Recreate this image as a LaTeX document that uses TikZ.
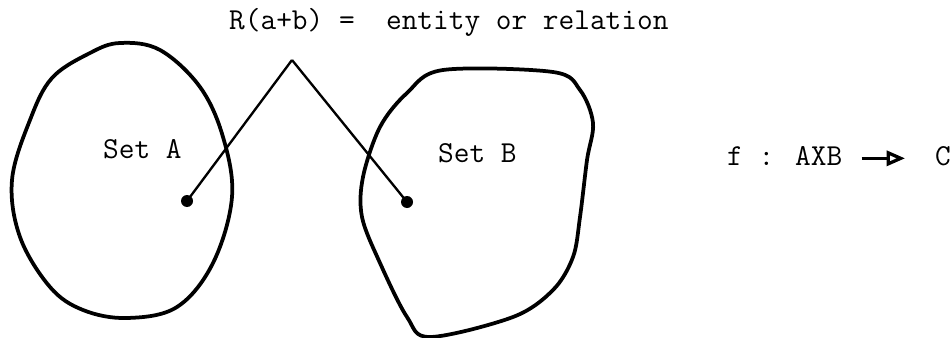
\documentclass[tikz,border=0pt]{standalone}
\usepackage{fontspec}
\usetikzlibrary{arrows.meta, positioning}
\tikzset{
  blob/.style={line width=3.2pt, line join=round},
  leg/.style={line width=2pt},
  dotnode/.style={circle, fill=black, inner sep=0pt, minimum size=0.36cm},
  label/.style={inner sep=0pt, anchor=base west, font=\ttfamily\fontsize{26}{30}\selectfont},
  funcarrow/.style={line width=2.8pt, -{Triangle[open, length=0.55cm, width=0.45cm]}}
}
\begin{document}
\begin{tikzpicture}[x=0.03cm, y=-0.03cm]
  \useasboundingbox (0,0) rectangle (951,338);
  % the two sets
  \draw [blob] plot [smooth cycle, tension=0.6] coordinates {
    (120,43) (160,50) (200,87) (223,137) (232,197) (213,263) (177,307)
    (127,318) (83,310) (50,287) (20,237) (12,180) (30,120) (52,78) (90,53)};
  \draw [blob] plot [smooth cycle, tension=0.55] coordinates {
    (443,70) (553,72) (580,90) (593,123) (587,160) (580,217) (573,257)
    (553,290) (513,317) (430,337) (407,317) (380,263) (362,217) (363,177)
    (380,127) (407,93)};
  \node (rel) [label] at (229,30) {R(a+b) =\ \ entity or relation};
  \node (seta) [label] at (103,158) {Set A};
  \node (setb) [label] at (438,162) {Set B};
  \coordinate (apex) at (292,60);
  \node (dota) [dotnode] at (187,201) {};
  \node (dotb) [dotnode] at (407,202) {};
  \draw [leg] (apex) -- (dota.center);
  \draw [leg] (apex) -- (dotb.center);
  \node (func) [label] at (727,165) {f : AXB};
  \node (setc) [label] at (935,165) {C};
  \draw [funcarrow, shorten <=0.57cm, shorten >=0.9cm] ([yshift=0.2cm]func.base east) -- ([yshift=0.2cm]setc.base west);
\end{tikzpicture}
\end{document}
